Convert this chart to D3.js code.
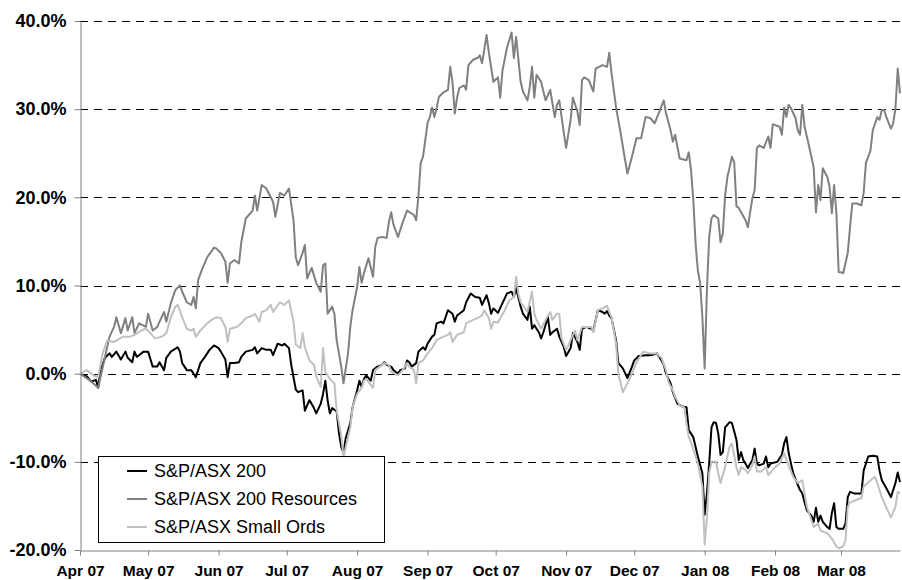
<!DOCTYPE html>
<html><head><meta charset="utf-8">
<script src="https://cdn.jsdelivr.net/npm/d3@7"></script>
<style>body{margin:0;background:#fff}svg{display:block}</style>
</head><body>
<svg id="chart" width="902" height="580"></svg>
<script>
const seriesNames = ["S&P/ASX 200", "S&P/ASX 200 Resources", "S&P/ASX Small Ords"];
const seriesColors = ["#000000", "#808080", "#c0c0c0"];
const yTicks = [-20, -10, 0, 10, 20, 30, 40];
const xTicks = ["2007-04-01","2007-05-01","2007-06-01","2007-07-01","2007-08-01","2007-09-01","2007-10-01","2007-11-01","2007-12-01","2008-01-01","2008-02-01","2008-03-01"];
const xDomain = ["2007-04-01", "2008-03-27"];

const asx200Dates = ["2007-04-01","2007-04-04","2007-04-06","2007-04-08","2007-04-09","2007-04-10","2007-04-12","2007-04-14","2007-04-15","2007-04-17","2007-04-19","2007-04-21","2007-04-22","2007-04-24","2007-04-25","2007-04-26","2007-04-29","2007-05-01","2007-05-03","2007-05-05","2007-05-06","2007-05-08","2007-05-09","2007-05-11","2007-05-14","2007-05-15","2007-05-16","2007-05-18","2007-05-20","2007-05-22","2007-05-24","2007-05-26","2007-05-28","2007-05-30","2007-06-01","2007-06-02","2007-06-04","2007-06-05","2007-06-06","2007-06-08","2007-06-10","2007-06-11","2007-06-13","2007-06-16","2007-06-17","2007-06-18","2007-06-20","2007-06-22","2007-06-24","2007-06-25","2007-06-27","2007-06-29","2007-06-30","2007-07-02","2007-07-03","2007-07-05","2007-07-06","2007-07-08","2007-07-09","2007-07-11","2007-07-13","2007-07-14","2007-07-16","2007-07-17","2007-07-18","2007-07-19","2007-07-20","2007-07-21","2007-07-23","2007-07-24","2007-07-25","2007-07-26","2007-07-27","2007-07-29","2007-07-30","2007-08-01","2007-08-02","2007-08-03","2007-08-04","2007-08-05","2007-08-07","2007-08-08","2007-08-10","2007-08-12","2007-08-13","2007-08-14","2007-08-16","2007-08-17","2007-08-19","2007-08-20","2007-08-22","2007-08-23","2007-08-24","2007-08-25","2007-08-27","2007-08-28","2007-08-30","2007-08-31","2007-09-01","2007-09-03","2007-09-04","2007-09-05","2007-09-07","2007-09-08","2007-09-10","2007-09-12","2007-09-13","2007-09-14","2007-09-17","2007-09-18","2007-09-20","2007-09-22","2007-09-24","2007-09-25","2007-09-27","2007-09-28","2007-09-29","2007-09-30","2007-10-02","2007-10-04","2007-10-06","2007-10-08","2007-10-09","2007-10-10","2007-10-12","2007-10-13","2007-10-15","2007-10-16","2007-10-17","2007-10-18","2007-10-20","2007-10-21","2007-10-22","2007-10-24","2007-10-25","2007-10-26","2007-10-28","2007-10-29","2007-10-31","2007-11-01","2007-11-03","2007-11-04","2007-11-06","2007-11-07","2007-11-08","2007-11-10","2007-11-12","2007-11-13","2007-11-15","2007-11-17","2007-11-18","2007-11-19","2007-11-20","2007-11-21","2007-11-23","2007-11-24","2007-11-26","2007-11-28","2007-11-30","2007-12-01","2007-12-03","2007-12-06","2007-12-08","2007-12-10","2007-12-11","2007-12-13","2007-12-14","2007-12-15","2007-12-17","2007-12-18","2007-12-20","2007-12-22","2007-12-24","2007-12-25","2007-12-27","2007-12-28","2007-12-29","2007-12-31","2008-01-01","2008-01-02","2008-01-03","2008-01-04","2008-01-05","2008-01-06","2008-01-07","2008-01-08","2008-01-09","2008-01-10","2008-01-12","2008-01-13","2008-01-15","2008-01-16","2008-01-17","2008-01-18","2008-01-19","2008-01-20","2008-01-22","2008-01-23","2008-01-24","2008-01-25","2008-01-27","2008-01-28","2008-01-29","2008-01-30","2008-02-02","2008-02-04","2008-02-05","2008-02-06","2008-02-07","2008-02-08","2008-02-09","2008-02-11","2008-02-12","2008-02-13","2008-02-14","2008-02-15","2008-02-17","2008-02-18","2008-02-19","2008-02-20","2008-02-21","2008-02-22","2008-02-24","2008-02-25","2008-02-26","2008-02-27","2008-02-28","2008-02-29","2008-03-02","2008-03-03","2008-03-04","2008-03-05","2008-03-07","2008-03-08","2008-03-10","2008-03-11","2008-03-13","2008-03-15","2008-03-17","2008-03-18","2008-03-19","2008-03-21","2008-03-23","2008-03-25","2008-03-26","2008-03-27"];
const asx200Values = [0,-0.3,-0.9,-0.7,-1.6,0.4,1.8,2.3,1.9,2.5,1.6,2.5,1.8,1.3,2.5,1.9,2.5,2.5,0.8,0.8,1.3,0.4,1.8,2.5,3.0,2.5,1.2,0.4,0.4,-0.4,1.2,1.9,2.7,3.2,2.9,2.5,1.6,-0.4,1.2,1.2,1.3,1.9,2.5,2.7,3.0,2.3,2.9,2.7,2.7,2.1,3.4,3.2,3.4,2.9,1.0,-1.8,-2.1,-1.9,-4.2,-3.0,-3.9,-4.5,-3.4,-2.3,-0.8,-3.0,-4.5,-3.9,-4.3,-6.7,-8.3,-9.0,-7.3,-5.6,-3.8,-1.9,-0.8,-1.5,-0.6,-0.2,-0.8,0.4,0.8,1.0,1.3,1.0,0.8,0.4,0.0,0.4,0.6,1.5,1.3,0.8,1.2,2.5,3.0,2.7,3.4,4.2,4.4,5.7,5.9,5.7,7.2,6.8,5.9,6.6,7.2,8.1,9.1,8.7,8.6,7.8,8.9,8.0,6.8,7.4,6.9,8.0,9.1,9.3,8.7,9.7,7.6,6.8,6.1,7.6,5.1,5.5,4.7,4.0,4.7,6.4,4.4,4.7,5.1,4.2,3.0,2.0,2.9,4.6,3.6,2.7,5.1,5.3,5.1,4.9,7.2,7.0,6.8,7.1,6.6,6.3,3.8,1.2,0.6,-0.5,0.8,1.5,2.0,2.1,2.1,2.2,2.3,1.5,1.0,0.0,-1.1,-2.1,-3.4,-3.7,-3.8,-6.4,-7.2,-8.3,-9.4,-11.3,-16.0,-13.6,-10.2,-6.1,-5.5,-5.6,-6.8,-9.2,-8.9,-6.1,-5.5,-5.6,-7.5,-9.8,-8.9,-9.8,-10.2,-10.7,-9.8,-8.5,-10.2,-10.4,-10.2,-9.4,-10.6,-10.2,-10.0,-9.2,-7.9,-7.2,-9.0,-10.2,-11.3,-12.6,-13.2,-13.6,-14.6,-15.5,-16.1,-16.8,-15.2,-16.8,-16.1,-16.8,-17.4,-17.6,-15.8,-14.7,-17.4,-17.6,-17.6,-17.0,-14.0,-13.4,-13.6,-13.6,-13.6,-11.0,-9.4,-9.3,-9.4,-11.0,-12.1,-13.0,-14.0,-12.4,-11.2,-12.3];

const resourcesDates = ["2007-04-01","2007-04-05","2007-04-09","2007-04-12","2007-04-14","2007-04-16","2007-04-17","2007-04-19","2007-04-21","2007-04-22","2007-04-24","2007-04-25","2007-04-27","2007-04-30","2007-05-01","2007-05-03","2007-05-05","2007-05-08","2007-05-09","2007-05-11","2007-05-13","2007-05-15","2007-05-16","2007-05-18","2007-05-20","2007-05-21","2007-05-22","2007-05-23","2007-05-25","2007-05-27","2007-05-30","2007-05-31","2007-06-02","2007-06-04","2007-06-05","2007-06-06","2007-06-08","2007-06-10","2007-06-11","2007-06-13","2007-06-16","2007-06-17","2007-06-18","2007-06-20","2007-06-22","2007-06-25","2007-06-26","2007-06-28","2007-06-30","2007-07-02","2007-07-04","2007-07-05","2007-07-06","2007-07-08","2007-07-09","2007-07-10","2007-07-12","2007-07-14","2007-07-16","2007-07-17","2007-07-18","2007-07-19","2007-07-21","2007-07-22","2007-07-23","2007-07-25","2007-07-26","2007-07-28","2007-07-29","2007-07-30","2007-08-01","2007-08-02","2007-08-03","2007-08-04","2007-08-06","2007-08-08","2007-08-09","2007-08-10","2007-08-12","2007-08-14","2007-08-15","2007-08-16","2007-08-17","2007-08-19","2007-08-21","2007-08-23","2007-08-26","2007-08-27","2007-08-28","2007-08-29","2007-08-30","2007-08-31","2007-09-01","2007-09-02","2007-09-03","2007-09-04","2007-09-05","2007-09-06","2007-09-08","2007-09-10","2007-09-11","2007-09-12","2007-09-13","2007-09-14","2007-09-15","2007-09-17","2007-09-18","2007-09-19","2007-09-21","2007-09-23","2007-09-24","2007-09-25","2007-09-27","2007-09-28","2007-09-30","2007-10-02","2007-10-03","2007-10-04","2007-10-06","2007-10-08","2007-10-09","2007-10-10","2007-10-12","2007-10-13","2007-10-15","2007-10-16","2007-10-17","2007-10-18","2007-10-19","2007-10-21","2007-10-22","2007-10-23","2007-10-25","2007-10-27","2007-10-28","2007-10-29","2007-10-31","2007-11-01","2007-11-03","2007-11-04","2007-11-06","2007-11-07","2007-11-08","2007-11-09","2007-11-11","2007-11-13","2007-11-14","2007-11-17","2007-11-19","2007-11-20","2007-11-21","2007-11-23","2007-11-25","2007-11-27","2007-11-28","2007-11-30","2007-12-02","2007-12-04","2007-12-06","2007-12-08","2007-12-10","2007-12-12","2007-12-14","2007-12-15","2007-12-17","2007-12-18","2007-12-19","2007-12-21","2007-12-24","2007-12-25","2007-12-26","2007-12-27","2007-12-28","2007-12-29","2007-12-30","2007-12-31","2008-01-01","2008-01-02","2008-01-03","2008-01-04","2008-01-05","2008-01-07","2008-01-08","2008-01-09","2008-01-10","2008-01-11","2008-01-12","2008-01-13","2008-01-14","2008-01-15","2008-01-16","2008-01-19","2008-01-20","2008-01-22","2008-01-23","2008-01-24","2008-01-25","2008-01-27","2008-01-29","2008-01-30","2008-01-31","2008-02-03","2008-02-04","2008-02-05","2008-02-06","2008-02-07","2008-02-08","2008-02-10","2008-02-11","2008-02-12","2008-02-13","2008-02-14","2008-02-15","2008-02-17","2008-02-18","2008-02-19","2008-02-20","2008-02-21","2008-02-22","2008-02-24","2008-02-25","2008-02-26","2008-02-27","2008-02-28","2008-02-29","2008-03-01","2008-03-02","2008-03-04","2008-03-05","2008-03-06","2008-03-08","2008-03-10","2008-03-11","2008-03-12","2008-03-14","2008-03-15","2008-03-17","2008-03-18","2008-03-19","2008-03-20","2008-03-21","2008-03-23","2008-03-24","2008-03-25","2008-03-26","2008-03-27"];
const resourcesValues = [0,-0.7,-1.6,1.9,4.2,5.3,6.4,4.6,6.3,4.9,6.4,4.6,5.7,5.3,6.8,4.9,5.3,7.0,5.9,8.0,9.5,10.0,9.3,8.1,7.8,8.7,7.4,10.6,12.0,13.2,14.3,14.2,13.7,12.7,10.3,12.5,12.9,12.5,14.9,17.6,18.5,20.2,18.5,21.4,21.0,19.5,17.8,20.5,20.2,21.0,17.4,13.2,12.3,13.7,14.6,10.8,12.0,10.3,9.3,12.3,12.5,6.8,7.6,6.8,3.8,0.8,-1.1,2.3,5.3,7.2,9.8,12.1,10.3,11.4,13.1,11.0,14.4,15.4,15.5,15.4,17.2,18.3,16.9,15.5,17.1,18.5,18.0,17.4,20.2,23.9,24.6,26.5,28.4,29.1,30.2,29.1,30.1,31.4,31.9,32.2,34.8,33.0,29.5,31.3,32.4,32.7,32.2,35.0,35.6,35.8,36.1,35.2,38.4,36.4,33.1,33.6,31.3,34.4,37.0,38.7,35.8,38.2,33.1,32.0,31.0,32.5,34.8,31.3,33.9,33.1,32.0,31.0,32.2,29.1,30.5,31.0,27.3,25.6,28.8,31.3,29.7,28.2,33.3,33.6,33.3,32.0,34.6,35.0,34.8,36.4,34.1,30.2,27.3,24.2,22.7,24.6,26.7,26.7,29.1,29.0,28.4,29.7,31.0,29.5,27.6,26.3,27.1,24.4,24.2,25.1,23.1,19.7,14.8,11.7,10.3,6.4,0.6,9.5,15.5,17.6,18.0,17.6,14.9,15.9,20.2,22.3,23.4,24.6,24.0,19.0,18.8,17.4,16.6,19.9,20.8,25.6,25.9,25.6,26.9,25.6,28.3,28.0,27.1,30.2,29.1,30.5,30.1,29.0,27.6,27.1,30.5,28.0,26.9,24.6,23.4,18.3,21.4,19.7,23.3,22.3,21.2,18.2,21.4,18.2,11.5,11.5,11.4,13.7,16.6,19.3,19.3,19.1,20.5,23.9,25.3,27.6,29.1,28.8,29.9,29.9,29.1,27.8,28.4,30.1,34.6,31.8];

const smallOrdsDates = ["2007-04-01","2007-04-04","2007-04-07","2007-04-09","2007-04-11","2007-04-13","2007-04-16","2007-04-20","2007-04-23","2007-04-25","2007-04-28","2007-04-30","2007-05-02","2007-05-04","2007-05-07","2007-05-09","2007-05-11","2007-05-13","2007-05-14","2007-05-16","2007-05-18","2007-05-20","2007-05-21","2007-05-22","2007-05-24","2007-05-27","2007-05-29","2007-05-31","2007-06-02","2007-06-04","2007-06-05","2007-06-06","2007-06-09","2007-06-11","2007-06-13","2007-06-16","2007-06-17","2007-06-19","2007-06-20","2007-06-22","2007-06-24","2007-06-25","2007-06-28","2007-06-30","2007-07-02","2007-07-04","2007-07-05","2007-07-07","2007-07-08","2007-07-09","2007-07-11","2007-07-13","2007-07-14","2007-07-16","2007-07-17","2007-07-18","2007-07-20","2007-07-22","2007-07-23","2007-07-25","2007-07-26","2007-07-27","2007-07-29","2007-07-30","2007-08-01","2007-08-03","2007-08-04","2007-08-05","2007-08-08","2007-08-09","2007-08-11","2007-08-13","2007-08-15","2007-08-16","2007-08-19","2007-08-21","2007-08-23","2007-08-24","2007-08-26","2007-08-27","2007-08-28","2007-08-30","2007-09-01","2007-09-03","2007-09-05","2007-09-08","2007-09-10","2007-09-11","2007-09-12","2007-09-14","2007-09-17","2007-09-18","2007-09-21","2007-09-23","2007-09-25","2007-09-26","2007-09-28","2007-09-29","2007-09-30","2007-10-02","2007-10-05","2007-10-07","2007-10-09","2007-10-10","2007-10-11","2007-10-12","2007-10-15","2007-10-17","2007-10-18","2007-10-19","2007-10-21","2007-10-24","2007-10-25","2007-10-26","2007-10-28","2007-10-29","2007-10-30","2007-11-01","2007-11-02","2007-11-04","2007-11-05","2007-11-06","2007-11-08","2007-11-10","2007-11-12","2007-11-13","2007-11-15","2007-11-17","2007-11-19","2007-11-20","2007-11-21","2007-11-23","2007-11-24","2007-11-26","2007-11-28","2007-11-30","2007-12-02","2007-12-05","2007-12-08","2007-12-11","2007-12-12","2007-12-13","2007-12-15","2007-12-16","2007-12-18","2007-12-19","2007-12-21","2007-12-23","2007-12-24","2007-12-25","2007-12-26","2007-12-28","2007-12-29","2007-12-31","2008-01-01","2008-01-02","2008-01-03","2008-01-04","2008-01-05","2008-01-06","2008-01-07","2008-01-08","2008-01-10","2008-01-11","2008-01-12","2008-01-13","2008-01-15","2008-01-16","2008-01-17","2008-01-19","2008-01-20","2008-01-22","2008-01-23","2008-01-24","2008-01-26","2008-01-28","2008-01-29","2008-02-01","2008-02-03","2008-02-05","2008-02-06","2008-02-09","2008-02-11","2008-02-13","2008-02-14","2008-02-15","2008-02-17","2008-02-18","2008-02-20","2008-02-21","2008-02-24","2008-02-26","2008-02-28","2008-02-29","2008-03-02","2008-03-03","2008-03-04","2008-03-05","2008-03-08","2008-03-10","2008-03-11","2008-03-14","2008-03-16","2008-03-17","2008-03-19","2008-03-21","2008-03-23","2008-03-25","2008-03-26","2008-03-27"];
const smallOrdsValues = [0,0.4,-0.2,-0.4,2.3,3.8,3.6,4.2,4.2,4.4,4.9,5.1,4.6,4.0,4.2,4.6,6.4,7.6,7.8,6.4,5.1,4.9,5.1,4.2,4.9,5.7,6.1,6.4,6.3,5.3,3.6,5.1,5.3,5.7,6.3,6.6,6.8,5.9,7.0,7.2,7.8,7.0,8.1,7.8,8.3,5.9,3.3,2.9,4.6,3.0,1.5,1.0,-0.3,-1.5,2.9,0.2,-0.6,-1.1,-4.2,-7.0,-9.5,-8.3,-6.1,-3.8,-2.3,-1.6,-0.8,-0.6,-1.6,0.4,0.8,1.2,1.0,0.2,-0.2,0.4,1.2,0.8,0.4,-1.1,1.2,1.5,2.3,2.9,3.8,4.2,4.4,4.7,3.6,4.4,4.7,5.7,6.1,6.3,6.6,7.2,6.3,5.1,5.9,5.8,7.2,8.3,8.7,11.0,9.1,8.1,7.0,9.3,6.8,6.1,5.1,6.6,7.0,6.1,6.8,6.8,4.0,2.7,3.2,4.4,4.9,3.8,5.3,5.3,5.3,4.7,7.2,7.4,7.7,7.0,6.4,3.4,0.0,-2.1,-1.1,0.0,1.3,2.5,2.3,2.3,2.0,1.8,0.4,-0.9,-1.9,-2.6,-3.6,-3.8,-5.6,-7.2,-7.8,-9.4,-10.2,-12.8,-19.4,-16.3,-11.3,-10.0,-10.0,-10.0,-11.3,-12.4,-10.6,-9.4,-8.3,-7.9,-10.6,-11.5,-10.6,-10.9,-11.3,-10.4,-9.4,-11.1,-11.1,-10.6,-11.5,-10.6,-10.2,-9.0,-9.8,-11.7,-12.4,-12.1,-13.6,-15.1,-16.6,-17.4,-17.0,-17.8,-18.1,-18.7,-19.6,-19.8,-19.6,-18.9,-15.1,-14.6,-14.3,-14.1,-12.8,-12.1,-11.7,-12.4,-14.0,-15.2,-16.3,-15.1,-13.4,-13.6];

const parse = d3.timeParse("%Y-%m-%d");
const series = [
  {name: seriesNames[0], color: seriesColors[0], dates: asx200Dates, values: asx200Values},
  {name: seriesNames[1], color: seriesColors[1], dates: resourcesDates, values: resourcesValues},
  {name: seriesNames[2], color: seriesColors[2], dates: smallOrdsDates, values: smallOrdsValues}
].map(s => ({...s, points: s.dates.map((d, i) => ({date: parse(d), value: s.values[i]}))}));

const svg = d3.select("#chart");
const font = "'Liberation Sans', Arial, sans-serif";
const x = d3.scaleTime().domain(xDomain.map(parse)).range([80, 900]);
const y = d3.scaleLinear().domain([-20, 40]).range([550, 21]);

// gridlines
svg.append("g").selectAll("line").data(yTicks.filter(t => t > -20)).join("line")
  .attr("x1", 80).attr("x2", 900)
  .attr("y1", d => Math.round(y(d)) + 0.5).attr("y2", d => Math.round(y(d)) + 0.5)
  .attr("stroke", "#000").attr("stroke-width", 1).attr("stroke-dasharray", "8,6");

// lines
const line = d3.line().x(d => x(d.date)).y(d => y(d.value));
svg.append("g").selectAll("path").data(series).join("path")
  .attr("d", d => line(d.points))
  .attr("fill", "none").attr("stroke", d => d.color)
  .attr("stroke-width", 2).attr("stroke-linejoin", "round");

// axes
const yAxis = svg.append("g").attr("transform", "translate(80.5,0)")
  .call(d3.axisLeft(y).tickValues(yTicks).tickSize(6).tickSizeOuter(0).tickPadding(8)
    .tickFormat(d => d.toFixed(1) + "%"));
yAxis.select(".domain").attr("stroke", "#808080");
yAxis.selectAll(".tick line").attr("stroke", "#808080");
yAxis.selectAll("text").attr("font-family", font).attr("font-size", 18).attr("font-weight", "bold").attr("fill", "#000");

const xAxis = svg.append("g").attr("transform", "translate(0,550.5)")
  .call(d3.axisBottom(x).tickValues(xTicks.map(parse)).tickSize(5).tickSizeOuter(0).tickPadding(9)
    .tickFormat(d3.timeFormat("%b %y")));
xAxis.select(".domain").attr("stroke", "#808080");
xAxis.selectAll(".tick line").attr("stroke", "#808080");
xAxis.selectAll("text").attr("font-family", font).attr("font-size", 15.5).attr("font-weight", "bold").attr("fill", "#000");

// legend
const lg = svg.append("g");
lg.append("rect").attr("x", 98.5).attr("y", 456.5).attr("width", 286).attr("height", 86)
  .attr("fill", "#fff").attr("stroke", "#000").attr("stroke-width", 1);
const rows = lg.selectAll("g").data(series).join("g")
  .attr("transform", (d, i) => `translate(0,${471 + i * 28})`);
rows.append("line").attr("x1", 127).attr("x2", 147).attr("y1", 0).attr("y2", 0)
  .attr("stroke", d => d.color).attr("stroke-width", 2);
rows.append("text").attr("x", 154).attr("y", 0).attr("dy", "0.35em")
  .attr("font-family", font).attr("font-size", 18).attr("fill", "#000")
  .text(d => d.name);
</script>
</body></html>
